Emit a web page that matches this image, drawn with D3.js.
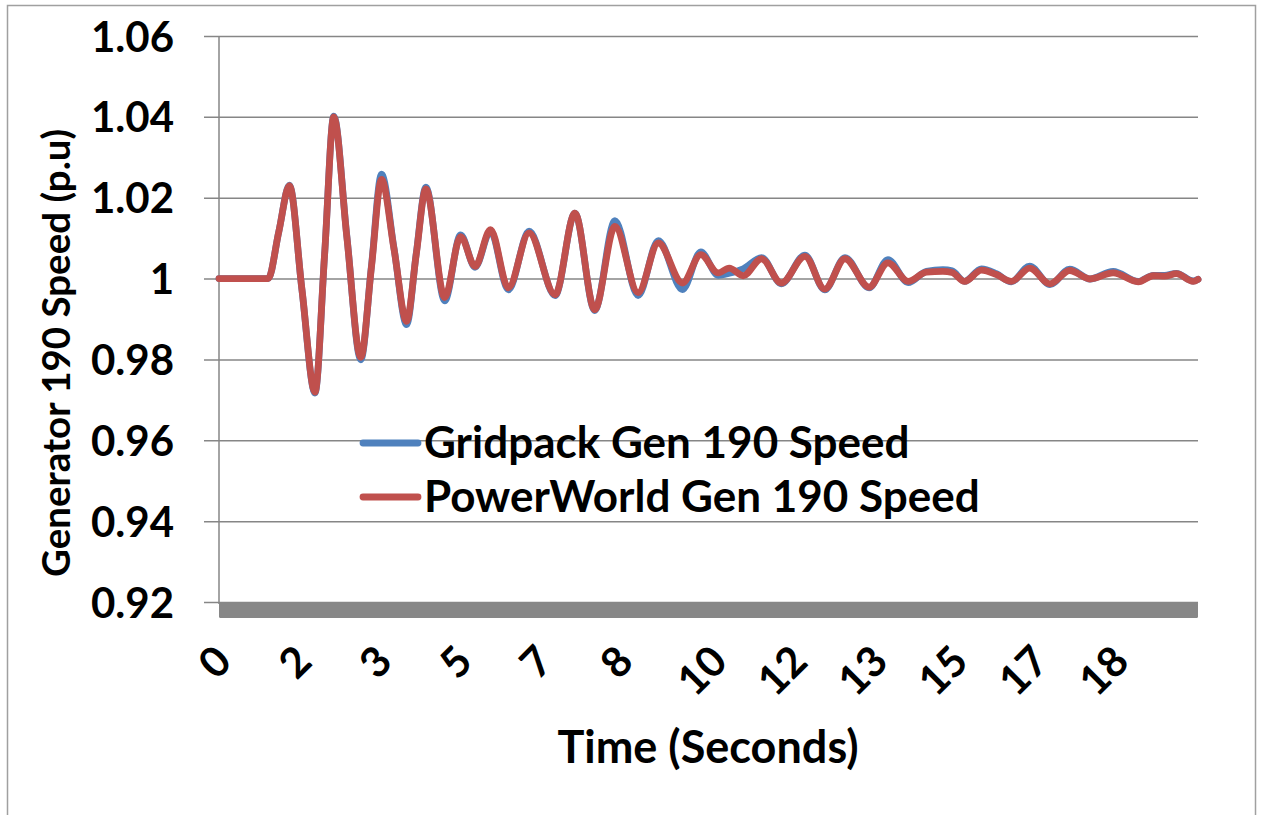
<!DOCTYPE html>
<html>
<head>
<meta charset="utf-8">
<script src="https://cdn.jsdelivr.net/npm/d3@7"></script>
<style>
  html, body { margin: 0; padding: 0; background: #fff; }
  svg { display: block; }
  text { font-family: Lato, "Open Sans", sans-serif; font-weight: bold; fill: #000; }
</style>
</head>
<body>
<svg id="chart" width="1262" height="815"></svg>
<script>
// ---- data ----
const time = [0, 1.02, 1.24, 1.46, 1.72, 1.99, 2.19, 2.38, 2.65, 2.94, 3.16, 3.37, 3.63, 3.89, 4.09, 4.29,
  4.68, 5.01, 5.31, 5.63, 6.00, 6.43, 6.97, 7.38, 7.79, 8.21, 8.69, 9.11, 9.61, 9.99, 10.35, 10.58,
  10.87, 11.25, 11.66, 12.15, 12.56, 12.98, 13.48, 13.87, 14.29, 14.67, 15.01, 15.20, 15.46, 15.81,
  16.12, 16.43, 16.81, 17.23, 17.64, 18.06, 18.54, 19.06, 19.37, 19.61, 19.85, 20.20, 20.30];

const powerWorld = [1.0000, 1.0000, 1.0116, 1.0230, 0.9973, 0.9719, 1.0060, 1.0400, 1.0104, 0.9805, 1.0027, 1.0245, 1.0072, 0.9894, 1.0060, 1.0222,
  0.9953, 1.0104, 1.0030, 1.0121, 0.9977, 1.0113, 0.9960, 1.0162, 0.9923, 1.0129, 0.9965, 1.0088, 0.9989, 1.0059, 1.0014, 1.0026,
  1.0007, 1.0049, 0.9989, 1.0055, 0.9974, 1.0049, 0.9979, 1.0039, 0.9993, 1.0016, 1.0018, 1.0015, 0.9993, 1.0021,
  1.0010, 0.9993, 1.0026, 0.9987, 1.0020, 0.9999, 1.0014, 0.9992, 1.0007, 1.0006, 1.0012, 0.9993, 0.9998];

const gridpack = [1.0000, 1.0000, 1.0116, 1.0231, 0.9972, 0.9717, 1.0060, 1.0402, 1.0106, 0.9799, 1.0030, 1.0258, 1.0074, 0.9886, 1.0062, 1.0226,
  0.9945, 1.0108, 1.0028, 1.0117, 0.9972, 1.0117, 0.9958, 1.0162, 0.9921, 1.0143, 0.9958, 1.0094, 0.9973, 1.0066, 1.0008, 1.0013,
  1.0024, 1.0052, 0.9987, 1.0058, 0.9972, 1.0052, 0.9977, 1.0047, 0.9990, 1.0018, 1.0022, 1.0019, 0.9993, 1.0024,
  1.0012, 0.9992, 1.0031, 0.9985, 1.0023, 0.9999, 1.0018, 0.9993, 1.0008, 1.0008, 1.0013, 0.9994, 0.9998];

const xTickValues = [0, 5/3, 10/3, 5, 20/3, 25/3, 10, 35/3, 40/3, 15, 50/3, 55/3];
const xTickLabels = ["0", "2", "3", "5", "7", "8", "10", "12", "13", "15", "17", "18"];
const yTickValues = [0.92, 0.94, 0.96, 0.98, 1.00, 1.02, 1.04, 1.06];
const yTickLabels = ["0.92", "0.94", "0.96", "0.98", "1", "1.02", "1.04", "1.06"];

const seriesNames = ["Gridpack Gen 190 Speed", "PowerWorld Gen 190 Speed"];
const seriesColors = ["#4F81BD", "#C0504D"];
const seriesValues = [gridpack, powerWorld];

// ---- layout ----
const svg = d3.select("#chart");
const plotLeft = 219, plotRight = 1198, plotTop = 36, plotBottom = 602;

const x = d3.scaleLinear().domain([0, 20.3]).range([plotLeft, plotRight]);
const y = d3.scaleLinear().domain([0.92, 1.06]).range([plotBottom, plotTop]);

// outer border
svg.append("rect")
  .attr("x", 7.5).attr("y", 5.5).attr("width", 1248).attr("height", 830)
  .attr("fill", "none").attr("stroke", "#a0a0a0").attr("stroke-width", 1.5);

// horizontal gridlines + y labels
const yAxis = d3.axisLeft(y)
  .tickValues(yTickValues)
  .tickSize(-(plotRight - 204))
  .tickPadding(30)
  .tickFormat((d, i) => yTickLabels[i]);
const gy = svg.append("g").attr("transform", "translate(204,0)").call(yAxis);
gy.select(".domain").remove();
gy.selectAll(".tick line").attr("stroke", "#868686").attr("stroke-width", 1.5);
gy.selectAll(".tick text").attr("font-size", 42).attr("dy", "0.36em")
  .style("font-family", "Lato, 'Open Sans', sans-serif").style("font-weight", "bold").attr("fill", "#000");

// vertical axis line
svg.append("line")
  .attr("x1", plotLeft).attr("x2", plotLeft)
  .attr("y1", plotTop).attr("y2", plotBottom + 2)
  .attr("stroke", "#868686").attr("stroke-width", 1.5);

// thick bottom axis band
svg.append("rect")
  .attr("x", plotLeft).attr("y", plotBottom)
  .attr("width", plotRight - plotLeft).attr("height", 16)
  .attr("rx", 1.5)
  .attr("fill", "#878787");

// x tick labels (rotated)
const xAxis = d3.axisBottom(x).tickValues(xTickValues).tickSize(0).tickFormat((d, i) => xTickLabels[i]);
const gx = svg.append("g").attr("transform", `translate(0,${plotBottom + 16})`).call(xAxis);
gx.select(".domain").remove();
gx.selectAll(".tick text")
  .attr("font-size", 42)
  .style("font-family", "Lato, 'Open Sans', sans-serif").style("font-weight", "bold")
  .attr("fill", "#000")
  .attr("text-anchor", "middle")
  .attr("y", 0).attr("dy", "0.36em")
  .each(function () {
    const w = this.getComputedTextLength();
    const cx = 0.2 * w - 10;
    const cy = 25 + 0.354 * w + 10;
    d3.select(this).attr("transform", `translate(${cx},${cy}) rotate(-45)`);
  });

// lines
const line = d3.line()
  .x((d, i) => x(time[i]))
  .y(d => y(d))
  .curve(d3.curveMonotoneX);

seriesValues.forEach((vals, k) => {
  svg.append("path")
    .datum(vals)
    .attr("d", line)
    .attr("fill", "none")
    .attr("stroke", seriesColors[k])
    .attr("stroke-width", 6.8)
    .attr("stroke-linejoin", "round")
    .attr("stroke-linecap", "round");
});

// legend (transparent)
const legend = svg.append("g");
seriesNames.forEach((name, k) => {
  const cy = 443 + k * 54;
  legend.append("line")
    .attr("x1", 363).attr("x2", 418)
    .attr("y1", cy).attr("y2", cy)
    .attr("stroke", seriesColors[k]).attr("stroke-width", 6.8)
    .attr("stroke-linecap", "round");
  legend.append("text")
    .attr("x", 424).attr("y", cy).attr("dy", "0.35em")
    .attr("font-size", 44)
    .text(name);
});

// axis titles
svg.append("text")
  .attr("text-anchor", "middle")
  .attr("transform", "translate(70,353) rotate(-90)")
  .attr("font-size", 38.5)
  .text("Generator 190 Speed (p.u)");

svg.append("text")
  .attr("text-anchor", "middle")
  .attr("x", 708).attr("y", 763)
  .attr("font-size", 45)
  .text("Time (Seconds)");
</script>
</body>
</html>
